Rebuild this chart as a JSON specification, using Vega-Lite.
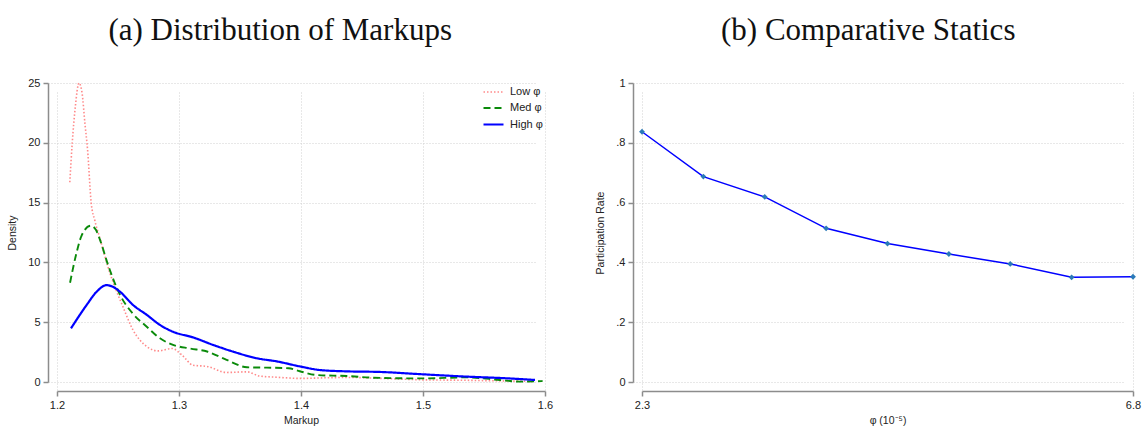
{
  "$schema": "https://vega.github.io/schema/vega-lite/v6.json",
  "background": "white",
  "padding": {"left": 7, "top": 15, "right": 1, "bottom": 0},
  "config": {
    "view": {"stroke": null},
    "font": "Liberation Sans",
    "axis": {
      "domainColor": "#8c8c8c", "domainWidth": 1.5,
      "tickColor": "#8c8c8c", "tickWidth": 1.5, "tickSize": 5,
      "labelFont": "Liberation Sans", "labelFontSize": 11, "labelColor": "#222222", "labelPadding": 3, "labelFlush": false,
      "titleFont": "Liberation Sans", "titleFontSize": 10.5, "titleFontWeight": "normal", "titleColor": "#222222",
      "gridColor": "#d0d0d0", "gridDash": [1, 2], "gridWidth": 1,
      "offset": 9
    },
    "title": {"font": "Liberation Serif", "fontSize": 31, "fontWeight": "normal", "color": "#111111", "anchor": "middle", "frame": "bounds", "offset": 30}
  },
  "datasets": {
    "dens": [
      {"m": 1.2105, "d": 16.7, "s": "Low φ"},
      {"m": 1.2125, "d": 20.0, "s": "Low φ"},
      {"m": 1.2150, "d": 23.0, "s": "Low φ"},
      {"m": 1.2180, "d": 25.0, "s": "Low φ"},
      {"m": 1.2205, "d": 24.2, "s": "Low φ"},
      {"m": 1.2230, "d": 21.5, "s": "Low φ"},
      {"m": 1.2250, "d": 19.5, "s": "Low φ"},
      {"m": 1.2280, "d": 15.0, "s": "Low φ"},
      {"m": 1.2310, "d": 13.5, "s": "Low φ"},
      {"m": 1.2352, "d": 12.0, "s": "Low φ"},
      {"m": 1.2434, "d": 9.1, "s": "Low φ"},
      {"m": 1.2540, "d": 6.3, "s": "Low φ"},
      {"m": 1.2623, "d": 4.35, "s": "Low φ"},
      {"m": 1.2738, "d": 2.95, "s": "Low φ"},
      {"m": 1.2828, "d": 2.6, "s": "Low φ"},
      {"m": 1.2943, "d": 2.8, "s": "Low φ"},
      {"m": 1.3025, "d": 2.25, "s": "Low φ"},
      {"m": 1.3115, "d": 1.4, "s": "Low φ"},
      {"m": 1.3230, "d": 1.3, "s": "Low φ"},
      {"m": 1.3390, "d": 0.8, "s": "Low φ"},
      {"m": 1.3557, "d": 0.85, "s": "Low φ"},
      {"m": 1.3660, "d": 0.5, "s": "Low φ"},
      {"m": 1.3800, "d": 0.4, "s": "Low φ"},
      {"m": 1.4000, "d": 0.3, "s": "Low φ"},
      {"m": 1.4200, "d": 0.35, "s": "Low φ"},
      {"m": 1.4400, "d": 0.38, "s": "Low φ"},
      {"m": 1.4600, "d": 0.32, "s": "Low φ"},
      {"m": 1.4800, "d": 0.25, "s": "Low φ"},
      {"m": 1.5000, "d": 0.18, "s": "Low φ"},
      {"m": 1.5300, "d": 0.15, "s": "Low φ"},
      {"m": 1.5600, "d": 0.1, "s": "Low φ"},
      {"m": 1.5900, "d": 0.05, "s": "Low φ"},
      {"m": 1.2107, "d": 8.3, "s": "Med φ"},
      {"m": 1.2160, "d": 10.8, "s": "Med φ"},
      {"m": 1.2200, "d": 12.2, "s": "Med φ"},
      {"m": 1.2276, "d": 13.07, "s": "Med φ"},
      {"m": 1.2320, "d": 12.7, "s": "Med φ"},
      {"m": 1.2352, "d": 11.9, "s": "Med φ"},
      {"m": 1.2418, "d": 9.8, "s": "Med φ"},
      {"m": 1.2516, "d": 7.3, "s": "Med φ"},
      {"m": 1.2623, "d": 5.7, "s": "Med φ"},
      {"m": 1.2738, "d": 4.6, "s": "Med φ"},
      {"m": 1.2844, "d": 3.65, "s": "Med φ"},
      {"m": 1.2951, "d": 3.1, "s": "Med φ"},
      {"m": 1.3090, "d": 2.8, "s": "Med φ"},
      {"m": 1.3230, "d": 2.55, "s": "Med φ"},
      {"m": 1.3390, "d": 1.85, "s": "Med φ"},
      {"m": 1.3557, "d": 1.23, "s": "Med φ"},
      {"m": 1.3720, "d": 1.2, "s": "Med φ"},
      {"m": 1.3900, "d": 1.15, "s": "Med φ"},
      {"m": 1.3990, "d": 0.9, "s": "Med φ"},
      {"m": 1.4130, "d": 0.58, "s": "Med φ"},
      {"m": 1.4375, "d": 0.5, "s": "Med φ"},
      {"m": 1.4590, "d": 0.36, "s": "Med φ"},
      {"m": 1.5000, "d": 0.3, "s": "Med φ"},
      {"m": 1.5358, "d": 0.39, "s": "Med φ"},
      {"m": 1.5630, "d": 0.17, "s": "Med φ"},
      {"m": 1.5795, "d": 0.03, "s": "Med φ"},
      {"m": 1.5980, "d": 0.08, "s": "Med φ"},
      {"m": 1.2115, "d": 4.49, "s": "High φ"},
      {"m": 1.2243, "d": 6.44, "s": "High φ"},
      {"m": 1.2325, "d": 7.55, "s": "High φ"},
      {"m": 1.2407, "d": 8.1, "s": "High φ"},
      {"m": 1.2460, "d": 7.95, "s": "High φ"},
      {"m": 1.2516, "d": 7.55, "s": "High φ"},
      {"m": 1.2623, "d": 6.44, "s": "High φ"},
      {"m": 1.2738, "d": 5.6, "s": "High φ"},
      {"m": 1.2844, "d": 4.77, "s": "High φ"},
      {"m": 1.2951, "d": 4.2, "s": "High φ"},
      {"m": 1.3115, "d": 3.73, "s": "High φ"},
      {"m": 1.3280, "d": 3.1, "s": "High φ"},
      {"m": 1.3443, "d": 2.54, "s": "High φ"},
      {"m": 1.3640, "d": 1.98, "s": "High φ"},
      {"m": 1.3803, "d": 1.72, "s": "High φ"},
      {"m": 1.3992, "d": 1.3, "s": "High φ"},
      {"m": 1.4156, "d": 1.0, "s": "High φ"},
      {"m": 1.4375, "d": 0.89, "s": "High φ"},
      {"m": 1.4648, "d": 0.84, "s": "High φ"},
      {"m": 1.5003, "d": 0.64, "s": "High φ"},
      {"m": 1.5358, "d": 0.45, "s": "High φ"},
      {"m": 1.5686, "d": 0.31, "s": "High φ"},
      {"m": 1.5918, "d": 0.17, "s": "High φ"}
    ],
    "part": [
      {"phi": 2.3, "rate": 0.837},
      {"phi": 2.8625, "rate": 0.687},
      {"phi": 3.425, "rate": 0.619},
      {"phi": 3.9875, "rate": 0.514},
      {"phi": 4.55, "rate": 0.463},
      {"phi": 5.1125, "rate": 0.428},
      {"phi": 5.675, "rate": 0.395},
      {"phi": 6.2375, "rate": 0.35},
      {"phi": 6.8, "rate": 0.352}
    ]
  },
  "spacing": 97,
  "bounds": "flush",
  "hconcat": [
    {
      "width": 488,
      "height": 299,
      "title": "(a) Distribution of Markups",
      "data": {"name": "dens"},
      "mark": {"type": "line", "interpolate": "monotone"},
      "encoding": {
        "x": {"field": "m", "type": "quantitative",
              "scale": {"domain": [1.2, 1.6], "nice": false, "zero": false},
              "axis": {"values": [1.2, 1.3, 1.4, 1.5, 1.6], "format": ".1f", "title": "Markup", "titlePadding": 5}},
        "y": {"field": "d", "type": "quantitative",
              "scale": {"domain": [0, 25], "nice": false},
              "axis": {"values": [0, 5, 10, 15, 20, 25], "title": "Density", "titlePadding": 10}},
        "color": {"field": "s", "type": "nominal",
                  "scale": {"domain": ["Low φ", "Med φ", "High φ"], "range": ["#ff8a8a", "#0a8a0a", "#0000ff"]},
                  "legend": {"orient": "none", "legendX": 425, "legendY": -2, "title": null, "symbolType": "stroke", "symbolSize": 400, "symbolStrokeWidth": 2, "labelFont": "Liberation Sans", "labelFontSize": 11, "labelColor": "#222222", "rowPadding": -4.5, "labelOffset": 5}},
        "strokeDash": {"field": "s", "type": "nominal",
                  "scale": {"domain": ["Low φ", "Med φ", "High φ"], "range": [[1.5, 2], [7, 4], [1, 0]]},
                  "legend": {"orient": "none", "legendX": 425, "legendY": -2, "title": null, "symbolType": "stroke", "symbolSize": 400, "symbolStrokeWidth": 2, "labelFont": "Liberation Sans", "labelFontSize": 11, "labelColor": "#222222", "rowPadding": -4.5, "labelOffset": 5}},
        "strokeWidth": {"field": "s", "type": "nominal",
                  "scale": {"domain": ["Low φ", "Med φ", "High φ"], "range": [1.6, 2.2, 2.2]},
                  "legend": null}
      }
    },
    {
      "width": 491,
      "height": 299,
      "title": "(b) Comparative Statics",
      "data": {"name": "part"},
      "encoding": {
        "x": {"field": "phi", "type": "quantitative",
              "scale": {"domain": [2.3, 6.8], "nice": false, "zero": false},
              "axis": {"values": [2.3, 6.8], "format": ".1f", "title": "φ (10⁻⁵)", "titlePadding": 5}},
        "y": {"field": "rate", "type": "quantitative",
              "scale": {"domain": [0, 1], "nice": false},
              "axis": {"values": [0, 0.2, 0.4, 0.6, 0.8, 1], "labelExpr": "datum.value == 0 ? '0' : datum.value == 1 ? '1' : '.' + round(datum.value * 10)", "title": "Participation Rate", "titlePadding": 10}}
      },
      "layer": [
        {"mark": {"type": "line", "color": "#0000ff", "strokeWidth": 1.5}},
        {"mark": {"type": "point", "shape": "diamond", "filled": true, "color": "#2a7ab8", "size": 34, "opacity": 1}}
      ]
    }
  ]
}
